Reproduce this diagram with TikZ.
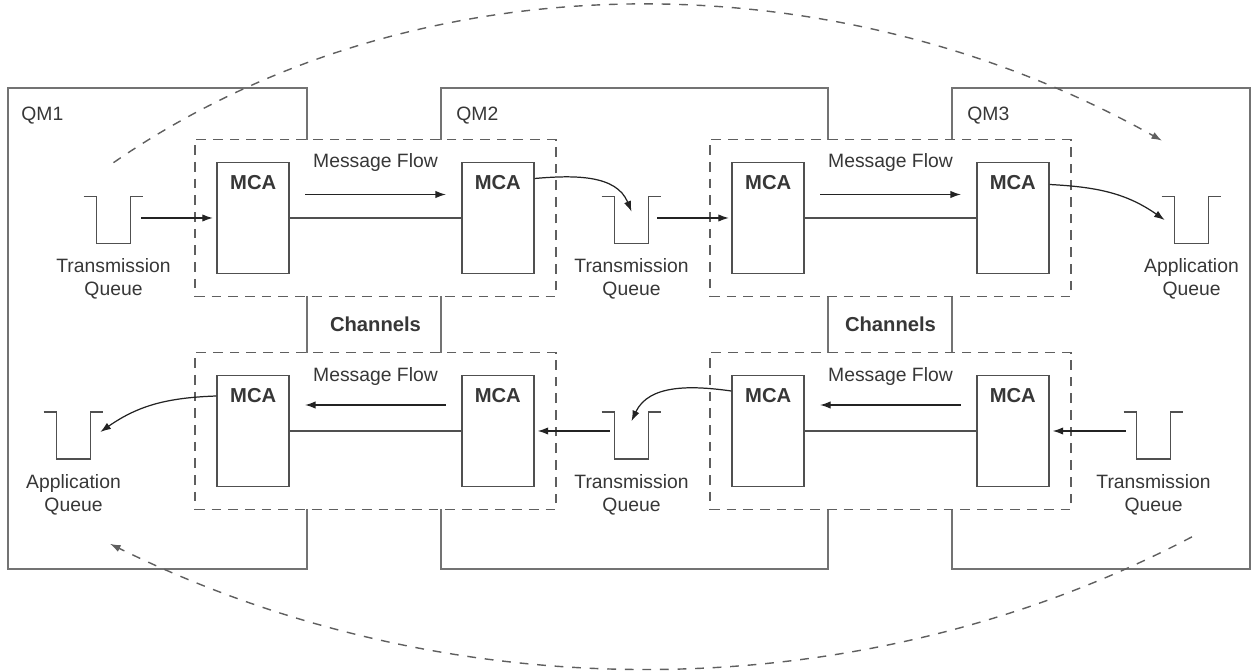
\documentclass[tikz,border=0pt]{standalone}
\usepackage{fontspec}
\setmainfont{Liberation Sans}
\usepackage{tikz}
\usetikzlibrary{arrows.meta, positioning, calc}
\definecolor{qmgray}{RGB}{115,115,115}
\definecolor{dashgray}{RGB}{95,95,95}
\definecolor{boxgray}{RGB}{80,80,80}
\definecolor{arrgray}{RGB}{35,35,35}
\definecolor{txtgray}{RGB}{55,55,55}
\tikzset{
  qmbox/.style={rectangle,draw=qmgray,line width=1.1pt,minimum height=9.62cm},
  chanbox/.style={rectangle,draw=dashgray,fill=white,line width=0.8pt,
    dash pattern=on 5.5pt off 4pt,minimum width=7.22cm,minimum height=3.14cm},
  mcanode/.style={rectangle,draw=boxgray,fill=white,line width=1pt,
    minimum width=1.44cm,minimum height=2.22cm},
  mcatext/.style={anchor=north,inner sep=0pt,yshift=-0.26cm,
    font=\fontsize{11.5}{13}\selectfont\bfseries,text=txtgray},
  queue/.style={rectangle,inner sep=0pt,minimum width=0.66cm,minimum height=0.92cm},
  qline/.style={draw=boxgray,line width=0.9pt},
  qlabel/.style={align=center,inner sep=0pt,text=txtgray},
  qmlabel/.style={inner sep=0pt,text=txtgray},
  flowlabel/.style={inner sep=0pt,text=txtgray},
  chanlabel/.style={inner sep=0pt,font=\fontsize{11.5}{13}\selectfont\bfseries,text=txtgray},
  link/.style={draw=boxgray,line width=0.8pt},
  arr/.style={-{Latex[length=6pt,width=4.2pt]},line width=0.7pt,color=arrgray},
  farr/.style={arr,shorten <=0.3cm,shorten >=0.3cm},
  longarr/.style={arr,color=dashgray,line width=0.8pt,dash pattern=on 5pt off 5pt}
}
\newcommand{\qshape}[1]{%
  \draw[qline] ($(#1.north west)+(-13,0)$) -- (#1.north west) -- (#1.south west)
    -- (#1.south east) -- (#1.north east) -- ++(13,0);}

\begin{document}
\begin{tikzpicture}[x=0.02cm,y=0.02cm,font=\fontsize{11}{13}\selectfont]
  \useasboundingbox (0,0) rectangle (1254,672);
  % queue managers
  \node[qmbox,minimum width=5.98cm] (qm1) at (157.5,343.5) {};
  \node[qmbox,minimum width=7.74cm] (qm2) at (634.5,343.5) {};
  \node[qmbox,minimum width=5.96cm] (qm3) at (1101,343.5) {};
  \node[qmlabel,below right=0.4cm and 0.28cm of qm1.north west] {QM1};
  \node[qmlabel,below right=0.4cm and 0.32cm of qm2.north west] {QM2};
  \node[qmlabel,below right=0.4cm and 0.32cm of qm3.north west] {QM3};
  % channels
  \node[chanbox] (ch12) at (375.5,454) {};
  \node[chanbox] (ch23) at (890.5,454) {};
  \node[chanbox] (ch21) at (375.5,241) {};
  \node[chanbox] (ch32) at (890.5,241) {};
  \node[chanlabel] at ($(ch12.south)!0.5!(ch21.north)$) {Channels};
  \node[chanlabel] at ($(ch23.south)!0.5!(ch32.north)$) {Channels};
  % message channel agents
  \node[mcanode,right=0.44cm of ch12.west,label={[mcatext]north:MCA}] (mA) {};
  \node[mcanode,left=0.44cm of ch12.east,label={[mcatext]north:MCA}] (mB) {};
  \node[mcanode,right=0.44cm of ch23.west,label={[mcatext]north:MCA}] (mC) {};
  \node[mcanode,left=0.44cm of ch23.east,label={[mcatext]north:MCA}] (mD) {};
  \node[mcanode,right=0.44cm of ch21.west,label={[mcatext]north:MCA}] (mE) {};
  \node[mcanode,left=0.44cm of ch21.east,label={[mcatext]north:MCA}] (mF) {};
  \node[mcanode,right=0.44cm of ch32.west,label={[mcatext]north:MCA}] (mG) {};
  \node[mcanode,left=0.44cm of ch32.east,label={[mcatext]north:MCA}] (mH) {};
  \foreach \a/\b in {mA/mB,mC/mD,mE/mF,mG/mH} \draw[link] (\a)--(\b);
  % queues
  \node[queue] (tq1) at (113.5,452) {};
  \node[queue] (tq2) at (631.5,452) {};
  \node[queue] (aq1) at (1191.5,452) {};
  \node[queue] (aq2) at (73.5,236.5) {};
  \node[queue] (tq3) at (631.5,236.5) {};
  \node[queue] (tq4) at (1153.5,236.5) {};
  \foreach \q in {tq1,tq2,aq1,aq2,tq3,tq4} \qshape{\q};
  \node[qlabel,below=0.3cm of tq1] {Transmission\\Queue};
  \node[qlabel,below=0.3cm of tq2] {Transmission\\Queue};
  \node[qlabel,below=0.3cm of aq1] {Application\\Queue};
  \node[qlabel,below=0.3cm of aq2] {Application\\Queue};
  \node[qlabel,below=0.3cm of tq3] {Transmission\\Queue};
  \node[qlabel,below=0.3cm of tq4] {Transmission\\Queue};
  % message flow
  \draw[farr] ([yshift=0.47cm]mA.east) -- node[flowlabel,above=0.44cm] {Message Flow} ([yshift=0.47cm]mB.west);
  \draw[farr] ([yshift=0.47cm]mC.east) -- node[flowlabel,above=0.44cm] {Message Flow} ([yshift=0.47cm]mD.west);
  \draw[farr] ([yshift=0.52cm]mF.west) -- node[flowlabel,above=0.38cm] {Message Flow} ([yshift=0.52cm]mE.east);
  \draw[farr] ([yshift=0.52cm]mH.west) -- node[flowlabel,above=0.38cm] {Message Flow} ([yshift=0.52cm]mG.east);
  \draw[arr,shorten <=0.22cm,shorten >=0.07cm] (tq1.east |- mA.west) -- (mA.west);
  \draw[arr,shorten <=0.18cm,shorten >=0.05cm] (tq2.east |- mC.west) -- (mC.west);
  \draw[arr,shorten <=0.1cm,shorten >=0.06cm] (tq3.west |- mF.east) -- (mF.east);
  \draw[arr,shorten <=0.22cm,shorten >=0.06cm] (tq4.west |- mH.east) -- (mH.east);
  \draw[arr] ([yshift=0.79cm]mB.east) to[out=5,in=112] ([yshift=-0.3cm]tq2.north);
  \draw[arr] ([yshift=0.67cm]mD.east) to[out=-3,in=145] ([xshift=-0.2cm]aq1.west);
  \draw[arr] ([yshift=0.7cm]mE.west) to[out=182,in=35] ([xshift=0.2cm,yshift=0.07cm]aq2.east);
  \draw[arr] ([yshift=0.8cm]mG.west) to[out=172,in=65] ([yshift=-0.18cm]tq3.north);
  % end-to-end paths
  \coordinate (topS) at ([yshift=0.68cm]tq1.north);
  \coordinate (topE) at ([xshift=-0.59cm,yshift=1.12cm]aq1.north);
  \draw[longarr] (topS) .. controls ($(topS)+(300,207)$) and ($(topE)+(-330,185)$) .. (topE);
  \coordinate (botS) at ([xshift=0.77cm,yshift=-1.56cm]tq4.south);
  \coordinate (botE) at ([xshift=0.73cm,yshift=-1.7cm]aq2.south);
  \draw[longarr] (botS) .. controls ($(botS)+(-333,-175)$) and ($(botE)+(341,-168)$) .. (botE);
\end{tikzpicture}
\end{document}
